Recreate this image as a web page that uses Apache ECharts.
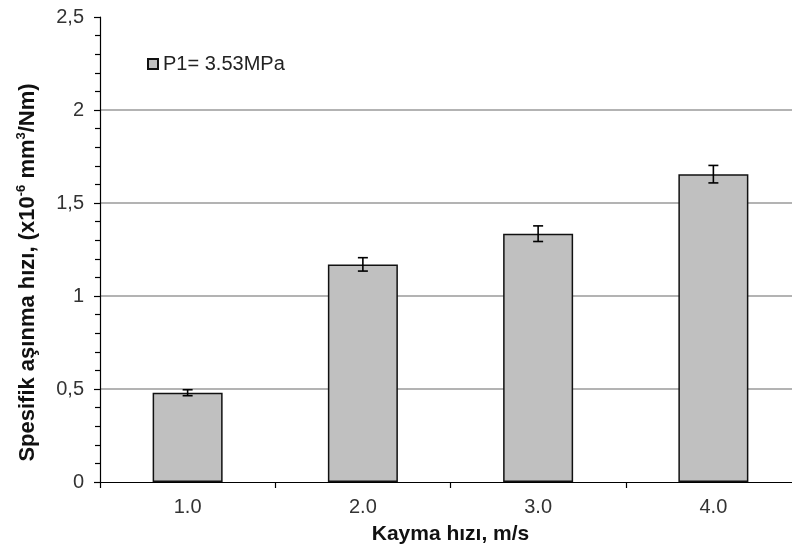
<!DOCTYPE html>
<html><head><meta charset="utf-8">
<script src="https://cdn.jsdelivr.net/npm/echarts@6/dist/echarts.min.js"></script>
<style>html,body{margin:0;padding:0;background:#fff;overflow:hidden}#c{width:801px;height:554px}</style>
</head><body><div id="c"></div>
<script>
const categories = ['1.0', '2.0', '3.0', '4.0'];
const values = [0.48, 1.17, 1.335, 1.655];
const errors = [0.016, 0.036, 0.042, 0.047];
const yTicks = [0, 0.5, 1, 1.5, 2, 2.5];
const seriesName = 'P1= 3.53MPa';
const xTitle = 'Kayma hızı, m/s';
const yTitleParts = ['Spesifik aşınma hızı, (x10', '-6', ' mm', '3', '/Nm)'];

const FONT = 'Liberation Sans, Arial, sans-serif';
const chart = echarts.init(document.getElementById('c'), null, {renderer: 'canvas'});
const errData = values.map((v, i) => [i, v - errors[i], v + errors[i]]);
const yTitle = '{b|' + yTitleParts[0] + '}{s|' + yTitleParts[1] + '}{b|' + yTitleParts[2] + '}{s|' + yTitleParts[3] + '}{b|' + yTitleParts[4] + '}';
chart.setOption({
  animation: false,
  textStyle: {fontFamily: FONT},
  grid: {left: 100, top: 17, bottom: 72, right: 0, containLabel: false},
  legend: {
    left: 147, top: 54, padding: 0, itemWidth: 10, itemHeight: 10,
    data: [{name: seriesName, icon: 'rect'}],
    textStyle: {fontSize: 20, color: '#222', fontFamily: FONT}
  },
  xAxis: {
    type: 'category', data: categories,
    axisLine: {lineStyle: {color: '#000', width: 1.2}},
    axisTick: {show: true, length: 6, alignWithLabel: false, lineStyle: {color: '#000', width: 1.2}},
    axisLabel: {fontSize: 20, color: '#333', margin: 15, fontFamily: FONT},
    name: xTitle, nameLocation: 'middle', nameGap: 42,
    nameTextStyle: {fontSize: 21, fontWeight: 'bold', color: '#111', fontFamily: FONT}
  },
  yAxis: {
    type: 'value', min: yTicks[0], max: yTicks[yTicks.length - 1], interval: 0.5,
    axisLine: {show: true, lineStyle: {color: '#000', width: 1.2}},
    axisTick: {show: true, length: 6, lineStyle: {color: '#000', width: 1.2}},
    minorTick: {show: true, splitNumber: 5, length: 5, lineStyle: {color: '#000', width: 1.2}},
    axisLabel: {fontSize: 20, color: '#333', margin: 16, formatter: v => String(v).replace('.', ',')},
    splitLine: {show: true, lineStyle: {color: ['rgba(0,0,0,0)', '#9a9a9a', '#9a9a9a', '#9a9a9a', '#9a9a9a', 'rgba(0,0,0,0)'], width: 1.5}},
    name: yTitle, nameLocation: 'middle', nameGap: 59, nameRotate: 90,
    nameTextStyle: {
      padding: [0, 46, 0, 0],
      rich: {
        b: {fontSize: 22, fontWeight: 'bold', color: '#111', fontFamily: FONT, lineHeight: 26},
        s: {fontSize: 13, fontWeight: 'bold', color: '#111', fontFamily: FONT, verticalAlign: 'top', lineHeight: 26}
      }
    }
  },
  series: [
    {
      name: seriesName, type: 'bar', data: values, barWidth: 70,
      itemStyle: {color: '#c0c0c0', borderColor: '#111', borderWidth: 1.5}
    },
    {
      type: 'custom', name: 'err', data: errData, z: 10,
      renderItem: function (params, api) {
        const x = api.value(0);
        const lo = api.coord([x, api.value(1)]);
        const hi = api.coord([x, api.value(2)]);
        const hw = 5;
        const st = {stroke: '#000', lineWidth: 1.6};
        return {type: 'group', children: [
          {type: 'line', shape: {x1: lo[0], y1: lo[1], x2: hi[0], y2: hi[1]}, style: st},
          {type: 'line', shape: {x1: lo[0] - hw, y1: lo[1], x2: lo[0] + hw, y2: lo[1]}, style: st},
          {type: 'line', shape: {x1: hi[0] - hw, y1: hi[1], x2: hi[0] + hw, y2: hi[1]}, style: st}
        ]};
      }
    }
  ]
});
</script></body></html>
